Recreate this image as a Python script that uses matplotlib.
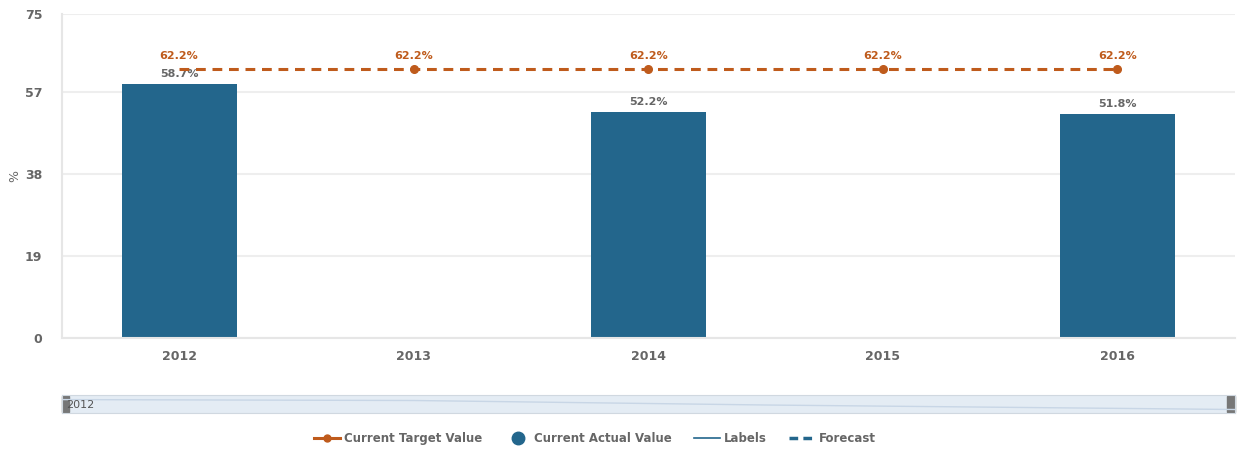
import numpy as np
import matplotlib.pyplot as plt
from matplotlib.lines import Line2D

years = ["2012", "2013", "2014", "2015", "2016"]
actual = [58.7, np.nan, 52.2, np.nan, 51.8]
target = [62.2, 62.2, 62.2, 62.2, 62.2]
yticks = [0, 19, 38, 57, 75]

orange = "#BF5B1C"
blue = "#23668C"
grey = "#666666"

fig = plt.figure(figsize=(12.37, 4.5), dpi=100)
ax = fig.add_axes([0.050, 0.249, 0.948, 0.720])

x = np.arange(len(years))
for xi, v in zip(x, actual):
    if np.isnan(v):
        continue
    ax.bar(xi, v, width=0.49, color=blue, zorder=2)
    ax.text(xi, v + 1.2, "{:.1f}%".format(v), ha="center", va="bottom",
            fontsize=8, color=grey, fontweight="bold")

ax.plot(x, target, color=orange, linestyle=(0, (3.2, 2.2)), linewidth=2.2, zorder=3)
ax.plot(x[1:], target[1:], "o", color=orange, markersize=5.5, zorder=4)
for xi, v in zip(x, target):
    ax.text(xi, v + 2.0, "{:.1f}%".format(v), ha="center", va="bottom",
            fontsize=8, color=orange, fontweight="bold")

ax.set_xlim(-0.5, len(years) - 0.5)
ax.set_ylim(0, 75)
ax.set_yticks(yticks)
ax.set_xticks(x)
ax.set_xticklabels(years)
ax.grid(axis="y", color="#eeeeee", linewidth=1.5, zorder=0)
ax.tick_params(axis="both", length=0, colors=grey, labelsize=9)
ax.tick_params(axis="x", pad=9)
ax.tick_params(axis="y", pad=14)
for lab in ax.get_xticklabels() + ax.get_yticklabels():
    lab.set_fontweight("bold")
for side in ["top", "right"]:
    ax.spines[side].set_visible(False)
ax.spines["left"].set_color("#e6e6e6")
ax.spines["bottom"].set_color("#e6e6e6")
ax.spines["left"].set_linewidth(1.5)
ax.spines["bottom"].set_linewidth(1.5)
ax.set_ylabel("%", color=grey, fontsize=9)
ax.yaxis.set_label_coords(-0.035, 0.5)

# navigator strip
nav = fig.add_axes([0.050, 0.082, 0.948, 0.040])
nav.set_facecolor("#e4ecf4")
nav.set_xlim(0, 1)
nav.set_ylim(0, 1)
nav.plot([0, 0.3, 0.6, 1], [0.75, 0.7, 0.45, 0.2], color="#c8d6e6", linewidth=1)
nav.set_xticks([])
nav.set_yticks([])
for s in nav.spines.values():
    s.set_color("#d0d8e0")
nav.add_patch(plt.Rectangle((0, 0.05), 0.006, 0.9, color="#777777", clip_on=False))
nav.add_patch(plt.Rectangle((0.994, 0.05), 0.006, 0.9, color="#777777", clip_on=False))
nav.text(0.004, 0.45, "2012", fontsize=8, color="#555555", va="center")

handles = [
    Line2D([], [], color=orange, marker="o", markersize=5, linewidth=2.2),
    Line2D([], [], color=blue, marker="o", markersize=9, linewidth=0),
    Line2D([], [], color=blue, linewidth=1.2),
    Line2D([], [], color=blue, linewidth=2.5, linestyle=(0, (2.5, 1.5))),
]
labels = ["Current Target Value", "Current Actual Value", "Labels", "Forecast"]
leg = fig.legend(handles, labels, loc="center", bbox_to_anchor=(0.481, 0.025), ncol=4,
                 frameon=False, fontsize=8.5, handlelength=2.2, columnspacing=1.9,
                 handletextpad=0.3)
for t in leg.get_texts():
    t.set_color(grey)
    t.set_fontweight("bold")

fig.savefig("out.png", dpi=100)
